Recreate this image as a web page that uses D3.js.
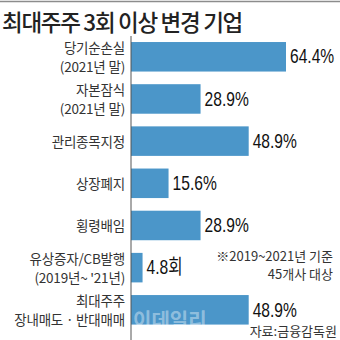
<!DOCTYPE html>
<html>
<head>
<meta charset="utf-8">
<script src="https://cdn.jsdelivr.net/npm/d3@7"></script>
<style>
  body { margin: 0; background: #fff; }
  svg { display: block; }
</style>
</head>
<body>
<div id="chart"></div>
<script>
const title = "최대주주 3회 이상 변경 기업"
const categories = ["당기순손실", "자본잠식", "관리종목지정", "상장폐지", "횡령배임", "유상증자/CB발행", "최대주주"]
const labelLines = [
  ["당기순손실", "(2021년 말)"],
  ["자본잠식", "(2021년 말)"],
  ["관리종목지정"],
  ["상장폐지"],
  ["횡령배임"],
  ["유상증자/CB발행", "(2019년~ '21년)"],
  ["최대주주", "장내매도 · 반대매매"]
]
const values = [64.4, 28.9, 48.9, 15.6, 28.9, 4.8, 48.9]
const valueLabels = ["64.4%", "28.9%", "48.9%", "15.6%", "28.9%", "4.8회", "48.9%"]
const notes = ["※2019~2021년 기준", "45개사 대상"]
const source = "자료:금융감독원"
const watermark = "이데일리"

const W = 340, H = 340
const axisX = 131
const kr = "'Noto Sans CJK KR', sans-serif"

const svg = d3.select("#chart").append("svg")
  .attr("width", W)
  .attr("height", H)

// top rule
svg.append("line")
  .attr("x1", 0).attr("x2", W)
  .attr("y1", 1.5).attr("y2", 1.5)
  .attr("stroke", "#8c8c8c").attr("stroke-width", 1.5)

svg.append("text")
  .attr("x", 2).attr("y", 31)
  .attr("font-family", kr)
  .attr("font-weight", 500)
  .attr("font-size", 22.5)
  .attr("letter-spacing", -1.3)
  .attr("fill", "#222")
  .text(title)

const x = d3.scaleLinear().domain([0, 64.4]).range([axisX, 286])
const y = d3.scaleBand()
  .domain(categories)
  .range([35.7, 330.9])
  .paddingInner(0.3)
  .paddingOuter(0.15)

svg.append("g").selectAll("rect")
  .data(categories)
  .join("rect")
  .attr("x", axisX)
  .attr("y", d => y(d))
  .attr("width", (d, i) => x(values[i]) - axisX)
  .attr("height", y.bandwidth())
  .attr("fill", "#4b96c9")

// axis line
svg.append("line")
  .attr("x1", axisX).attr("x2", axisX)
  .attr("y1", 36).attr("y2", H)
  .attr("stroke", "#555").attr("stroke-width", 1)

// category labels, one text per line
const labelRows = []
categories.forEach((d, i) => {
  const lines = labelLines[i]
  const cy = y(d) + y.bandwidth() / 2
  lines.forEach((t, j) => {
    labelRows.push({t: t, y: cy + (lines.length === 1 ? 0 : (j === 0 ? -9.5 : 9.5))})
  })
})

svg.append("g").selectAll("text")
  .data(labelRows)
  .join("text")
  .attr("x", 125)
  .attr("y", d => d.y)
  .attr("text-anchor", "end")
  .attr("dominant-baseline", "central")
  .attr("font-family", kr)
  .attr("font-size", 13.5)
  .attr("letter-spacing", -0.2)
  .attr("fill", "#333")
  .text(d => d.t)

// value labels, squeezed horizontally to look condensed
svg.append("g").selectAll("text")
  .data(categories)
  .join("text")
  .attr("transform", (d, i) => "translate(" + (x(values[i]) + 4) + "," + (y(d) + y.bandwidth() / 2) + ") scale(0.78,1)")
  .attr("dominant-baseline", "central")
  .attr("font-family", "'Liberation Sans', Arial, " + kr)
  .attr("font-size", 20)
  .attr("fill", "#111")
  .text((d, i) => valueLabels[i])

// watermark
svg.append("text")
  .attr("x", 133).attr("y", 319)
  .attr("dominant-baseline", "central")
  .attr("font-family", kr)
  .attr("font-weight", 700)
  .attr("font-size", 20)
  .attr("fill", "#fff")
  .attr("fill-opacity", 0.4)
  .text(watermark)

svg.append("g").selectAll("text")
  .data(notes)
  .join("text")
  .attr("x", 333)
  .attr("y", (d, i) => 255 + i * 18)
  .attr("text-anchor", "end")
  .attr("dominant-baseline", "central")
  .attr("font-family", kr)
  .attr("font-size", 13)
  .attr("fill", "#333")
  .text(d => d)

svg.append("text")
  .attr("x", 337).attr("y", 330)
  .attr("text-anchor", "end")
  .attr("dominant-baseline", "central")
  .attr("font-family", kr)
  .attr("font-size", 13)
  .attr("fill", "#333")
  .text(source)
</script>
</body>
</html>
